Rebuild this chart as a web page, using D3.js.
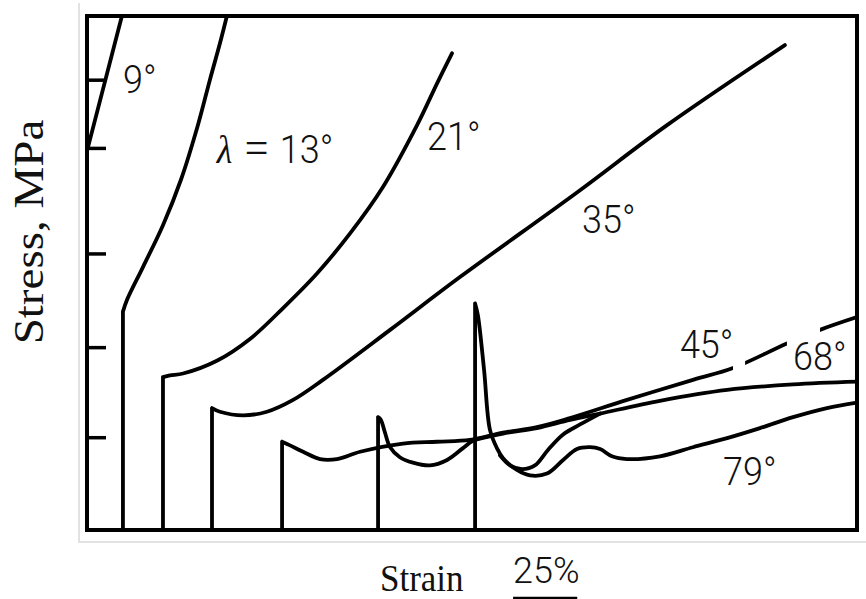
<!DOCTYPE html>
<html lang="en">
<head>
<meta charset="UTF-8">
<title>Stress vs strain</title>
<script src="https://d3js.org/d3.v7.min.js"></script>
<style>
body { margin: 0; background: #fff; }
.deg { font-family: Roboto, "Liberation Sans", sans-serif; font-weight: 300; font-size: 36px; fill: #111; }
.ttl { font-family: "Liberation Serif", "Times New Roman", serif; fill: #111; }
.curve { fill: none; stroke: #000; stroke-width: 3.8px; stroke-linejoin: round; stroke-linecap: round; }
</style>
</head>
<body>
<svg id="chart"></svg>
<script>
// strain in %, stress in arbitrary MPa units (axis is unlabelled)
var strainDomain = [0, 300];
var stressDomain = [0, 5.65];
var stressTicks = [1.02, 2.01, 3.04, 4.2, 4.95];
var scaleBar = [166, 25]; // start strain, length (25%)

var angles = ["9°", "13°", "21°", "35°", "45°", "68°", "79°"];

var c9  = [[0.4, 4.21], [13.6, 5.65]];
var c13 = [[14.0, 0], [14.0, 2.40], [15.6, 2.53], [21.8, 2.89], [29.6, 3.35], [36.6, 3.85],
           [43.2, 4.45], [47.9, 4.95], [51.8, 5.35], [54.5, 5.65]];
var c21 = [[29.6, 0], [29.6, 1.68], [32.3, 1.70], [37.4, 1.72], [50.6, 1.86], [63.5, 2.10],
           [76.4, 2.44], [89.6, 2.82], [102.5, 3.26], [115.3, 3.77], [128.6, 4.45], [136.4, 4.91], [142.2, 5.24]];
var c35 = [[48.7, 0], [48.7, 1.34], [51.8, 1.30], [60.8, 1.26], [70.1, 1.30], [80.3, 1.43],
           [91.9, 1.65], [118.1, 2.20], [145.3, 2.78], [190.9, 3.71], [226.0, 4.45], [271.9, 5.33]];
var c45 = [[76.0, 0], [76.0, 0.97], [79.1, 0.93], [84.2, 0.86], [90.8, 0.78], [97.4, 0.78],
           [106.4, 0.86], [123.1, 0.95], [136.4, 0.97], [149.2, 0.99], [162.1, 1.07], [175.3, 1.13],
           [188.2, 1.23], [210.4, 1.43], [236.1, 1.65], [251.7, 1.78], [272.7, 2.05], [285.6, 2.20], [300, 2.34]];
var c68 = [[113.4, 0], [113.4, 1.24], [114.5, 1.21], [116.1, 1.07], [118.1, 0.91], [121.9, 0.80],
           [127.0, 0.74], [133.6, 0.71], [140.3, 0.77], [146.5, 0.90], [150.4, 0.98], [162.1, 1.06],
           [175.3, 1.12], [188.2, 1.21], [199.9, 1.28], [223.2, 1.42], [249.4, 1.54], [275.1, 1.60], [300, 1.63]];
var c79 = [[151.2, 0], [151.2, 2.49], [152.3, 2.36], [154.7, 1.76], [157.0, 1.10], [159.7, 0.90],
           [162.1, 0.79], [167.5, 0.66], [172.6, 0.60], [179.2, 0.62], [185.5, 0.77], [190.9, 0.89],
           [196.0, 0.91], [199.9, 0.89], [204.5, 0.81], [210.4, 0.78], [223.2, 0.81], [236.1, 0.91],
           [249.4, 1.01], [262.2, 1.12], [275.1, 1.24], [288.3, 1.34], [300, 1.40]];
var c79b = [[160.9, 0.82], [164.8, 0.71], [169.5, 0.67], [174.5, 0.71], [179.6, 0.88],
            [185.5, 1.05], [192.1, 1.16], [199.9, 1.28]];
var gaps45 = [[251.7, 256.4], [272.7, 285.6]];

// label anchors (strain, stress) = left end of text baseline
var labelAt = [[14.0, 4.80], [50.6, 4.03], [132.5, 4.18], [192.9, 3.27], [231.0, 1.89], [275.1, 1.76], [247.8, 0.49]];

var W = 866, H = 599;
var svg = d3.select("#chart").attr("width", W).attr("height", H);

var x = d3.scaleLinear().domain(strainDomain).range([87, 857]);
var y = d3.scaleLinear().domain(stressDomain).range([530, 16]);

// faint scan border
svg.append("path")
    .attr("d", "M79,3V542H866")
    .attr("fill", "none").attr("stroke", "#d9d9d9").attr("stroke-width", 1.5);

var defs = svg.append("defs");
defs.append("clipPath").attr("id", "plot")
    .append("rect").attr("x", x(0)).attr("y", y(stressDomain[1])).attr("width", x(300) - x(0)).attr("height", y(0) - y(stressDomain[1]));

var open45 = [[strainDomain[0], gaps45[0][0]], [gaps45[0][1], gaps45[1][0]], [gaps45[1][1], strainDomain[1]]];
defs.append("clipPath").attr("id", "gap45")
    .selectAll("rect").data(open45).enter().append("rect")
    .attr("x", function(d) { return x(d[0]); })
    .attr("width", function(d) { return x(d[1]) - x(d[0]); })
    .attr("y", y(stressDomain[1])).attr("height", y(0) - y(stressDomain[1]));

var straight = d3.line()
    .x(function(d) { return x(d[0]); })
    .y(function(d) { return y(d[1]); });
var smooth = d3.line()
    .x(function(d) { return x(d[0]); })
    .y(function(d) { return y(d[1]); })
    .curve(d3.curveCatmullRom.alpha(0.5));

// vertical loading part is straight, the rest is smoothed
function curvePath(c) {
    if (c.length > 2 && c[0][0] === c[1][0]) {
        return straight(c.slice(0, 2)) + smooth(c.slice(1));
    }
    return smooth(c);
}

var curves = [c9, c13, c21, c35, c68, c79, c79b];
var g = svg.append("g").attr("clip-path", "url(#plot)");
g.selectAll("path.curve").data(curves).enter().append("path")
    .attr("class", "curve")
    .attr("d", curvePath);
g.append("g").attr("clip-path", "url(#gap45)")
    .append("path").attr("class", "curve").attr("d", curvePath(c45));

// ticks on left axis, pointing in
var yAxis = d3.axisLeft(y).tickValues(stressTicks).tickSize(-19).tickFormat("");
svg.append("g")
    .attr("transform", "translate(" + x(0) + ",0)")
    .call(yAxis)
    .call(function(a) { a.select(".domain").remove(); })
    .selectAll("line").attr("stroke", "#000").attr("stroke-width", 3.5);

// frame
svg.append("rect")
    .attr("x", x(0)).attr("y", y(stressDomain[1]))
    .attr("width", x(300) - x(0)).attr("height", y(0) - y(stressDomain[1]))
    .attr("fill", "none").attr("stroke", "#000").attr("stroke-width", 4);

// curve labels
labelAt.forEach(function(p, i) {
    var t = svg.append("text")
        .attr("class", "deg")
        .attr("transform", "translate(" + x(p[0]) + "," + y(p[1]) + ") scale(1,1.1)");
    if (i === 1) {
        t.append("tspan").attr("x", 0).attr("font-family", "Liberation Serif").attr("font-style", "italic").attr("font-weight", 400).text("λ");
        t.append("tspan").attr("x", 28).attr("font-family", "Liberation Serif").attr("font-weight", 400)
            .attr("font-size", 42).text("=");
        t.append("tspan").attr("x", 63).text(angles[i]);
    } else {
        t.text(angles[i]);
    }
});

// axis titles
svg.append("text").attr("class", "ttl")
    .attr("font-size", 42)
    .attr("text-anchor", "middle")
    .attr("transform", "translate(43,232) rotate(-90) scale(1.12,1)")
    .text("Stress, MPa");

svg.append("text").attr("class", "ttl")
    .attr("font-size", 35)
    .attr("transform", "translate(380,591) scale(1,1.1)")
    .text("Strain");

svg.append("text").attr("class", "deg")
    .attr("font-size", 34)
    .attr("transform", "translate(" + x(scaleBar[0]) + ",583) scale(1,1.05)")
    .text(scaleBar[1] + "%");

svg.append("line")
    .attr("x1", x(scaleBar[0])).attr("x2", x(scaleBar[0] + scaleBar[1]))
    .attr("y1", 598).attr("y2", 598)
    .attr("stroke", "#000").attr("stroke-width", 2.5);
</script>
</body>
</html>
